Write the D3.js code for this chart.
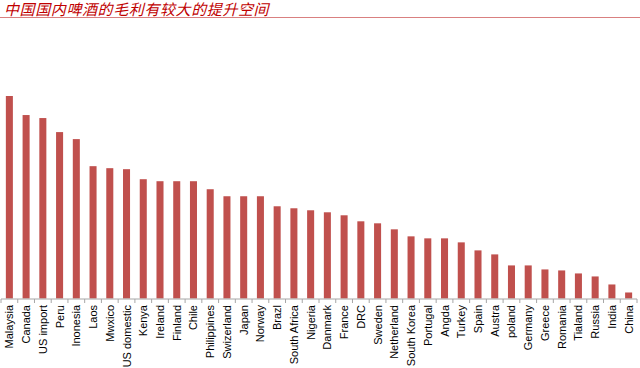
<!DOCTYPE html>
<html>
<head>
<meta charset="utf-8">
<script src="https://cdn.jsdelivr.net/npm/d3@7/dist/d3.min.js"></script>
<style>
  html, body { margin: 0; padding: 0; background: #fff; }
  #chart { width: 640px; height: 368px; }
</style>
</head>
<body>
<div id="chart"></div>
<script>
const title = "中国国内啤酒的毛利有较大的提升空间";

const countries = [
  "Malaysia", "Canada", "US import", "Peru", "Inonesia", "Laos", "Mwxico",
  "US domestic", "Kenya", "Ireland", "Finland", "Chile", "Philippines",
  "Swizerland", "Japan", "Norway", "Brazl", "South Africa", "Nigeria",
  "Danmark", "France", "DRC", "Sweden", "Netherland", "South Korea",
  "Portugal", "Angda", "Turkey", "Spain", "Austra", "poland", "Germany",
  "Greece", "Romania", "Tialand", "Russia", "India", "China"
];

const margins = [
  202, 183, 180, 166, 159, 132, 130, 129, 119, 117, 117, 117, 109,
  102, 102, 102, 92, 90, 88, 86, 83, 77, 75, 69, 62,
  60, 60, 56, 48, 44, 33, 33, 29, 28, 25, 22, 14, 6
];

const data = countries.map((c, i) => ({ name: c, value: margins[i] }));

const width = 640, height = 368;
const margin = { top: 96, right: 3, bottom: 69.5, left: 1 };
const innerWidth = width - margin.left - margin.right;
const innerHeight = height - margin.top - margin.bottom;

const svg = d3.select("#chart").append("svg")
  .attr("width", width)
  .attr("height", height);

// title + underline
svg.append("text")
  .attr("x", 4)
  .attr("y", 15)
  .style("font-family", "'Noto Sans CJK SC', sans-serif")
  .style("font-size", "15px")
  .style("font-style", "italic")
  .style("letter-spacing", "0.6px")
  .style("fill", "#c00000")
  .text(title);

svg.append("line")
  .attr("x1", 0).attr("x2", width)
  .attr("y1", 17.5).attr("y2", 17.5)
  .attr("stroke", "#d98080")
  .attr("stroke-width", 1);

const chart = svg.append("g")
  .attr("transform", `translate(${margin.left},${margin.top})`);

const x = d3.scaleBand()
  .domain(countries)
  .range([0, innerWidth])
  .paddingInner(0.58)
  .paddingOuter(0.29);

const y = d3.scaleLinear()
  .domain([0, 202])
  .range([innerHeight, 0]);

chart.selectAll(".bar")
  .data(data)
  .enter()
  .append("rect")
  .attr("class", "bar")
  .attr("x", d => x(d.name))
  .attr("y", d => y(d.value))
  .attr("width", x.bandwidth())
  .attr("height", d => innerHeight - y(d.value))
  .attr("fill", "#c0504d");

// axis: line + ticks between categories
const axis = chart.append("g")
  .attr("transform", `translate(0,${innerHeight + 0.5})`);

axis.append("line")
  .attr("x1", 0).attr("x2", innerWidth)
  .attr("stroke", "#a6a6a6");

const step = x.step();
const bounds = d3.range(countries.length + 1).map(i => x(countries[0]) - step * x.paddingInner() / 2 + i * step);
axis.selectAll(".tick")
  .data(bounds)
  .enter()
  .append("line")
  .attr("x1", d => d).attr("x2", d => d)
  .attr("y1", 0).attr("y2", 4)
  .attr("stroke", "#a6a6a6");

const labels = axis.selectAll(".lbl")
  .data(data)
  .enter()
  .append("g")
  .attr("class", "lbl")
  .attr("transform", d => `translate(${x(d.name) + x.bandwidth() / 2},6)`);

labels.append("text")
  .attr("transform", "rotate(-90)")
  .attr("x", 0)
  .attr("y", 4)
  .attr("text-anchor", "end")
  .style("font-family", "'Liberation Sans', Arial, sans-serif")
  .style("font-size", "11px")
  .style("fill", "#000")
  .text(d => d.name);
</script>
</body>
</html>
